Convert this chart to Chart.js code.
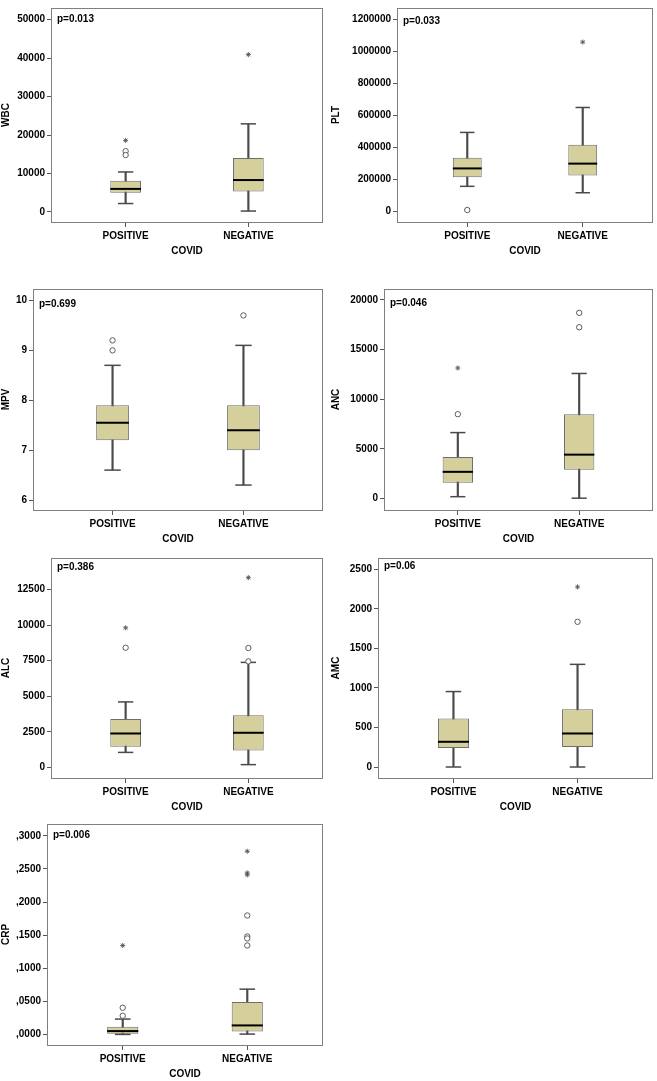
<!DOCTYPE html>
<html>
<head>
<meta charset="utf-8">
<script src="https://cdn.jsdelivr.net/npm/chart.js@4.4.0/dist/chart.umd.min.js"></script>
<style>
  body { margin: 0; background: #fff; overflow: hidden; }
  canvas { position: absolute; }
</style>
</head>
<body>
<script>
const groups = ['POSITIVE', 'NEGATIVE'];

// box rows: [lower whisker, Q1, median, Q3, upper whisker] for POSITIVE, NEGATIVE
// out = circles (outliers), ext = stars (extremes)
const wbcBox = [[2200, 5000, 6000, 8100, 10400], [250, 5300, 8300, 14000, 22900]];
const wbcOut = [[15800, 14800], []];
const wbcExt = [[18600], [40900]];
const wbcTicks = [0, 10000, 20000, 30000, 40000, 50000];

const pltBox = [[158000, 215000, 270000, 336000, 495000], [118000, 225000, 300000, 418000, 651000]];
const pltOut = [[10000], []];
const pltExt = [[], [1060000]];
const pltTicks = [0, 200000, 400000, 600000, 800000, 1000000, 1200000];

const mpvBox = [[6.6, 7.2, 7.55, 7.9, 8.7], [6.3, 7.0, 7.4, 7.9, 9.1]];
const mpvOut = [[9.2, 9.0], [9.7]];
const mpvExt = [[], []];
const mpvTicks = [6, 7, 8, 9, 10];

const ancBox = [[200, 1600, 2700, 4200, 6650], [50, 2900, 4430, 8500, 12600]];
const ancOut = [[8500], [18700, 17250]];
const ancExt = [[13150], []];
const ancTicks = [0, 5000, 10000, 15000, 20000];

const alcBox = [[1050, 1450, 2380, 3390, 4600], [190, 1190, 2430, 3670, 7380]];
const alcOut = [[8410], [8390, 7450]];
const alcExt = [[9810], [13340]];
const alcTicks = [0, 2500, 5000, 7500, 10000, 12500];

const amcBox = [[0, 240, 319, 613, 954], [0, 252, 424, 731, 1298]];
const amcOut = [[], [1836]];
const amcExt = [[], [2277]];
const amcTicks = [0, 500, 1000, 1500, 2000, 2500];

const crpBox = [[0, 0.001, 0.005, 0.0116, 0.0232], [0.0005, 0.0045, 0.0136, 0.0488, 0.0684]];
const crpOut = [[0.0403, 0.0282], [0.1797, 0.148, 0.145, 0.1344]];
const crpExt = [[0.1344], [0.2768, 0.2441, 0.241]];
const crpTicks = [0, 0.05, 0.1, 0.15, 0.2, 0.25, 0.3];

const pValues = ['p=0.013', 'p=0.033', 'p=0.699', 'p=0.046', 'p=0.386', 'p=0.06', 'p=0.006'];

const plain = v => String(v);
const comma = v => v.toFixed(4).replace(/^0\./, ',');

// layout: canvas left/top/width, frame = plot area [left, top, right, bottom] in page px
const panels = [
  {name: 'WBC', box: wbcBox, out: wbcOut, ext: wbcExt, ticks: wbcTicks, min: -2600, max: 53000, fmt: plain,
   left: 0, top: 0, width: 330, frame: [52, 3, 322, 222], dy: 11},
  {name: 'PLT', box: pltBox, out: pltOut, ext: pltExt, ticks: pltTicks, min: -65000, max: 1273000, fmt: plain,
   left: 330, top: 0, width: 327, frame: [398, 3, 655, 222], dy: 13},
  {name: 'MPV', box: mpvBox, out: mpvOut, ext: mpvExt, ticks: mpvTicks, min: 5.8, max: 10.23, fmt: plain,
   left: 0, top: 280, width: 330, frame: [34, 289, 322, 510], dy: 15},
  {name: 'ANC', box: ancBox, out: ancOut, ext: ancExt, ticks: ancTicks, min: -1140, max: 21100, fmt: plain,
   left: 330, top: 280, width: 327, frame: [385, 289, 654, 510], dy: 14},
  {name: 'ALC', box: alcBox, out: alcOut, ext: alcExt, ticks: alcTicks, min: -750, max: 14720, fmt: plain,
   left: 0, top: 548, width: 330, frame: [52, 558, 322, 778], dy: 9},
  {name: 'AMC', box: amcBox, out: amcOut, ext: amcExt, ticks: amcTicks, min: -139, max: 2643, fmt: plain,
   left: 330, top: 548, width: 327, frame: [379, 558, 654, 778], dy: 8},
  {name: 'CRP', box: crpBox, out: crpOut, ext: crpExt, ticks: crpTicks, min: -0.016, max: 0.318, fmt: comma,
   left: 0, top: 815, width: 330, frame: [48, 824, 322, 1045], dy: 11},
];

Chart.defaults.font.family = '"Liberation Sans", Arial, sans-serif';
Chart.defaults.font.size = 10;
Chart.defaults.font.weight = 'bold';
Chart.defaults.color = '#000';

const framePlugin = {
  id: 'frame',
  beforeDatasetsDraw(chart, args, opts) {
    const {ctx, chartArea: a} = chart;
    ctx.save();
    ctx.strokeStyle = '#808080';
    ctx.lineWidth = 1;
    ctx.strokeRect(Math.round(a.left) - 0.5, Math.round(a.top) + 0.5,
      Math.round(a.right - a.left) + 1, Math.round(a.bottom - a.top));
    ctx.font = 'bold 10px "Liberation Sans", Arial, sans-serif';
    ctx.fillStyle = '#000';
    ctx.textBaseline = 'middle';
    ctx.fillText(opts.text, a.left + 5, a.top + opts.dy);
    ctx.restore();
  }
};

const pts = arr => arr.flatMap((vals, i) => vals.map(v => ({x: i + 1, y: v})));
const halfWidth = frac => ctx => {
  const x = ctx.chart.scales.x;
  return Math.abs(x.getPixelForValue(1 + frac) - x.getPixelForValue(1));
};

const X_AXIS_H = 40;

panels.forEach((pn, k) => {
  const [L, T, R, B] = pn.frame;
  const cv = document.createElement('canvas');
  const h = Math.round(B - pn.top + X_AXIS_H);
  cv.width = pn.width;
  cv.height = h;
  cv.style.left = pn.left + 'px';
  cv.style.top = pn.top + 'px';
  document.body.appendChild(cv);

  const caps = pn.box.flatMap((b, i) => [{x: i + 1, y: b[0]}, {x: i + 1, y: b[4]}]);

  new Chart(cv, {
    type: 'bar',
    data: {
      datasets: [
        {type: 'scatter', data: pn.box.map((b, i) => ({x: i + 1, y: b[2]})),
         pointStyle: 'line', pointRadius: halfWidth(0.125), pointBorderColor: '#000', pointBorderWidth: 2},
        {type: 'scatter', data: pts(pn.out), pointStyle: 'circle', pointRadius: 2.7,
         pointBorderColor: '#5c5c5c', pointBackgroundColor: '#fff', pointBorderWidth: 1},
        {type: 'scatter', data: pts(pn.ext), pointStyle: 'star', pointRadius: 2.5,
         pointBorderColor: '#555', pointBorderWidth: 0.9},
        {type: 'scatter', data: caps, pointStyle: 'line', pointRadius: halfWidth(0.0625),
         pointBorderColor: '#4a4a4a', pointBorderWidth: 1.5},
        {type: 'bar', data: pn.box.map((b, i) => ({x: i + 1, y: [b[1], b[3]]})),
         backgroundColor: '#d4cf9b', borderColor: '#6e6e6e', borderWidth: 1, borderSkipped: false,
         grouped: false, barPercentage: 0.25, categoryPercentage: 1},
        {type: 'bar', data: pn.box.map((b, i) => ({x: i + 1, y: [b[0], b[4]]})),
         backgroundColor: '#4a4a4a', barThickness: 1.5, grouped: false},
      ]
    },
    options: {
      responsive: false,
      animation: false,
      events: [],
      layout: {padding: {left: 0, top: T - pn.top, right: pn.left + pn.width - R, bottom: h - (B - pn.top) - X_AXIS_H}},
      plugins: {
        legend: {display: false},
        tooltip: {enabled: false},
        frame: {text: pValues[k], dy: pn.dy}
      },
      scales: {
        x: {
          type: 'linear', min: 0.4, max: 2.6, offset: false,
          afterBuildTicks: s => { s.ticks = groups.map((g, i) => ({value: i + 1})); },
          afterFit: s => { s.height = X_AXIS_H; },
          ticks: {callback: v => groups[v - 1], padding: 3, maxRotation: 0, minRotation: 0, autoSkip: false},
          grid: {display: true, offset: false, drawOnChartArea: false, tickLength: 5, tickColor: '#555'},
          border: {display: false},
          title: {display: true, text: 'COVID', padding: {top: 4, bottom: 4.5}}
        },
        y: {
          min: pn.min, max: pn.max, beginAtZero: false,
          afterBuildTicks: s => { s.ticks = pn.ticks.map(v => ({value: v})); },
          afterFit: s => { s.width = L - pn.left; },
          ticks: {callback: v => pn.fmt(v), padding: 2, autoSkip: false},
          grid: {display: true, drawOnChartArea: false, tickLength: 5, tickColor: '#555'},
          border: {display: false},
          title: {display: true, text: pn.name, padding: {top: 0, bottom: 2}}
        }
      }
    },
    plugins: [framePlugin]
  });
});
</script>
</body>
</html>
